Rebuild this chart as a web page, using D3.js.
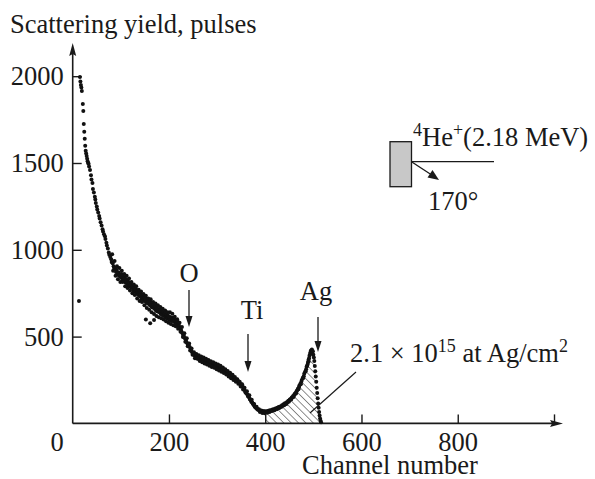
<!DOCTYPE html>
<html><head><meta charset="utf-8">
<script src="https://cdn.jsdelivr.net/npm/d3@7"></script>
<style>body{margin:0;background:#fff}svg{display:block}text{font-family:"Liberation Serif","Times New Roman",serif;fill:#1a1a1a}</style>
</head><body><svg id="c" width="595" height="479"></svg>
<script>
const xTicks = [200, 400, 600, 800, 1000];
const xTickLabels = ["200", "400", "600", "800", ""];
const yTicks = [500, 1000, 1500, 2000];
const spectrum = [[15,1995],[16,1970],[17,1950],[18,1935],[19,1915],[21,1840],[22,1800],[23,1725],[24,1680],[25,1640],[26,1600],[27,1570],[28,1555],[29,1540],[30,1525],[31,1510],[32,1500],[33,1495],[34,1480],[36,1460],[38,1430],[39,1405],[41,1385],[42,1350],[44,1330],[46,1305],[47,1290],[48,1270],[50,1250],[51,1232],[53,1215],[55,1195],[56,1180],[58,1158],[60,1140],[62,1118],[63,1105],[65,1090],[67,1078],[68,1062],[70,1040],[71,1025],[73,1008],[75,985],[76,972],[78,958],[80,945],[81,930],[83,922],[85,905],[86,895],[88,890],[90,872],[91,885],[93,862],[95,870],[96,850],[98,858],[100,842],[101,860],[103,828],[105,845],[106,822],[108,838],[110,812],[111,830],[113,805],[115,818],[116,795],[118,810],[120,785],[121,800],[123,780],[125,790],[126,765],[128,782],[130,760],[131,772],[133,748],[135,765],[136,740],[138,755],[140,732],[141,745],[143,720],[145,738],[146,712],[148,730],[150,705],[151,722],[153,698],[155,712],[156,690],[158,705],[160,682],[161,700],[163,675],[165,690],[166,668],[168,682],[170,660],[171,675],[173,650],[175,668],[176,645],[178,658],[180,640],[181,655],[183,630],[185,648],[186,625],[188,640],[190,618],[191,632],[193,612],[195,625],[196,605],[198,620],[200,600],[201,615],[203,595],[205,610],[206,590],[208,605],[210,588],[211,600],[213,580],[215,592],[216,575],[218,585],[220,568],[221,560],[223,550],[225,540],[226,530],[228,520],[230,508],[231,500],[233,490],[235,482],[236,470],[238,462],[240,455],[241,448],[243,440],[245,430],[246,422],[248,410],[250,405],[251,398],[253,392],[255,385],[256,392],[258,378],[260,385],[261,372],[263,380],[265,368],[266,376],[268,362],[270,372],[271,360],[273,368],[275,355],[276,364],[278,350],[280,360],[281,348],[283,356],[285,342],[286,352],[288,340],[290,348],[291,336],[293,344],[295,332],[296,340],[298,328],[300,336],[301,324],[303,332],[305,318],[306,326],[308,312],[310,320],[311,306],[313,312],[315,300],[316,305],[318,295],[320,298],[321,288],[323,292],[325,282],[326,285],[328,276],[330,280],[331,268],[333,272],[335,262],[336,262],[338,252],[340,255],[341,244],[343,246],[345,236],[346,236],[348,226],[350,225],[351,214],[353,212],[355,200],[356,198],[358,186],[360,182],[361,172],[363,166],[365,156],[366,150],[368,140],[370,134],[371,125],[373,120],[375,112],[376,106],[378,98],[380,94],[381,88],[383,84],[385,80],[386,78],[388,74],[390,72],[391,70],[393,68],[395,70],[396,66],[398,68],[400,65],[401,70],[403,66],[405,72],[406,68],[408,74],[410,70],[411,76],[413,74],[415,80],[416,76],[418,82],[420,80],[421,86],[423,84],[425,90],[426,88],[428,94],[430,92],[431,98],[433,98],[435,104],[436,102],[438,110],[440,108],[441,116],[443,114],[445,122],[446,122],[448,130],[450,130],[451,138],[453,140],[455,148],[456,150],[458,158],[460,162],[461,170],[463,175],[465,184],[466,190],[468,200],[470,208],[471,218],[473,228],[475,240],[476,250],[478,262],[480,272],[481,286],[483,298],[485,312],[486,326],[488,340],[489,352],[490,366],[491,376],[492,390],[493,398],[494,410],[495,420],[496,412],[497,425],[498,405],[499,415],[500,395],[501,380],[502,360],[503,330],[504,300],[505,270],[506,240],[507,205],[508,175],[509,145],[510,115],[511,90],[512,65],[513,45],[514,28],[515,15],[516,6]];
const spectrumScatter = [[82,975],[84,880],[87,935],[89,850],[92,905],[94,830],[97,895],[99,815],[102,880],[104,815],[107,860],[109,790],[112,850],[114,780],[117,835],[119,765],[122,815],[124,750],[127,800],[129,740],[132,790],[134,720],[137,770],[139,705],[142,760],[144,700],[147,745],[149,680],[152,735],[154,665],[157,720],[159,655],[162,715],[164,640],[167,700],[169,630],[172,690],[174,618],[177,680],[179,612],[182,670],[184,605],[187,660],[189,598],[192,650],[194,588],[197,640],[199,580],[202,640],[204,572],[207,632],[209,565],[212,615],[214,560],[217,600],[219,545],[222,580],[224,528],[227,555],[229,498],[232,520],[234,470],[237,490],[239,445],[242,460],[244,420],[247,432],[249,395],[252,410],[254,375],[257,400],[259,372],[262,392],[264,360],[267,385],[269,352],[272,380],[274,345],[277,372],[279,340],[282,365],[284,332],[287,358],[289,325],[292,352],[294,320],[297,345],[299,312],[302,340],[304,305],[307,332],[309,298],[312,322],[314,290],[317,312],[319,282],[322,302],[324,270],[327,292],[329,260],[332,280],[334,250],[337,268],[339,240],[342,255],[344,228],[347,240],[349,212],[352,225],[354,195],[357,205],[359,178],[362,185],[364,158],[367,162],[369,138],[372,136],[374,115],[377,112],[379,95],[382,96],[384,80],[387,82],[389,66],[392,74],[394,60],[397,70],[399,58],[404,62],[409,66],[414,72],[419,76],[424,82],[429,88],[434,96],[439,104],[444,112],[449,124],[454,138],[459,152],[464,172],[469,196],[474,226],[479,262],[484,300],[487,330],[490,356]];
const outliers = [[13,705],[161,577],[169,596],[152,598]];
const hatchStart = 400;
const peakLabels = ["O", "Ti", "Ag"];

const svg = d3.select("#c");
const x = d3.scaleLinear().domain([0, 1000]).range([72.7, 554]);
const y = d3.scaleLinear().domain([0, 2000]).range([423.4, 76.2]);
const FS = 26.5;
const SUP = 18;

const defs = svg.append("defs");
const pat = defs.append("pattern").attr("id","hatch").attr("patternUnits","userSpaceOnUse")
  .attr("width",5.2).attr("height",5.2).attr("patternTransform","rotate(-45)");
pat.append("line").attr("x1",0).attr("y1",0).attr("x2",0).attr("y2",5.2).attr("stroke","#333").attr("stroke-width",1.1);

// hatched area
const hatchData = spectrum.filter(d => d[0] >= hatchStart);
svg.append("path").datum(hatchData)
  .attr("d", d3.area().x(d => x(d[0])).y0(y(0)).y1(d => y(d[1]) + 1))
  .attr("fill","url(#hatch)");

// axes
const xAxis = d3.axisBottom(x).tickValues(xTicks).tickFormat((d,i)=>xTickLabels[i]).tickSizeInner(-9).tickSizeOuter(0).tickPadding(9);
const gx = svg.append("g").attr("transform",`translate(0,${y(0)})`).call(xAxis);
const yAxis = d3.axisLeft(y).tickValues(yTicks).tickFormat(d3.format("d")).tickSizeInner(-9).tickSizeOuter(0).tickPadding(9);
const gy = svg.append("g").attr("transform",`translate(${x(0)},0)`).call(yAxis);
[gx, gy].forEach(g => {
  g.select(".domain").remove();
  g.selectAll(".tick line").attr("stroke","#1a1a1a").attr("stroke-width",1.4);
  g.selectAll(".tick text").attr("font-size",FS).attr("font-family","Liberation Serif").attr("fill","#1a1a1a");
});
// axis lines with arrows
svg.append("line").attr("x1",x(0)).attr("x2",553).attr("y1",y(0)).attr("y2",y(0)).attr("stroke","#1a1a1a").attr("stroke-width",1.6);
svg.append("path").attr("d",`M563,${y(0)} L550,${y(0)-3.5} L552,${y(0)} L550,${y(0)+3.5}Z`).attr("fill","#1a1a1a");
svg.append("line").attr("x1",x(0)).attr("x2",x(0)).attr("y1",y(0)).attr("y2",53).attr("stroke","#1a1a1a").attr("stroke-width",1.6);
svg.append("path").attr("d",`M${x(0)},43 L${x(0)-3.5},56 L${x(0)},54 L${x(0)+3.5},56Z`).attr("fill","#1a1a1a");
svg.append("text").attr("x",57).attr("y",451).attr("text-anchor","middle").attr("font-size",FS).text("0");

// titles
svg.append("text").attr("x",10).attr("y",33).attr("font-size",FS).text("Scattering yield, pulses");
svg.append("text").attr("x",390).attr("y",474).attr("text-anchor","middle").attr("font-size",FS).text("Channel number");

// data points
svg.append("g").selectAll("circle").data(spectrum.concat(spectrumScatter, outliers)).join("circle")
  .attr("cx", d => x(d[0])).attr("cy", d => y(d[1])).attr("r",2).attr("fill","#111");

// peak arrows
function arrowDown(px, y1, y2) {
  svg.append("line").attr("x1",px).attr("x2",px).attr("y1",y1).attr("y2",y2-9).attr("stroke","#1a1a1a").attr("stroke-width",1.3);
  svg.append("path").attr("d",`M${px},${y2} L${px-3.5},${y2-11} L${px+3.5},${y2-11}Z`).attr("fill","#1a1a1a");
}
const labelPos = [{lx:189, ly:282, ax:189, a1:290, a2:327},{lx:252, ly:319, ax:248, a1:334, a2:372},{lx:316, ly:300, ax:318, a1:317, a2:352}];
peakLabels.forEach((p,i) => {
  const L = labelPos[i];
  svg.append("text").attr("x",L.lx).attr("y",L.ly).attr("text-anchor","middle").attr("font-size",FS).text(p);
  arrowDown(L.ax, L.a1, L.a2);
});

// annotation
const ann = svg.append("text").attr("x",350).attr("y",362).attr("font-size",FS);
ann.append("tspan").text("2.1 \u00d7 10");
ann.append("tspan").attr("font-size",SUP).attr("dy",-10).text("15");
ann.append("tspan").attr("dy",10).text(" at Ag/cm");
ann.append("tspan").attr("font-size",SUP).attr("dy",-10).text("2");
svg.append("line").attr("x1",356).attr("y1",372).attr("x2",310).attr("y2",413).attr("stroke","#1a1a1a").attr("stroke-width",1.2);

// inset
svg.append("rect").attr("x",390).attr("y",141.7).attr("width",21.5).attr("height",45).attr("fill","#c8c8c8").attr("stroke","#1a1a1a").attr("stroke-width",1.3);
svg.append("line").attr("x1",411.5).attr("x2",494).attr("y1",161.7).attr("y2",161.7).attr("stroke","#1a1a1a").attr("stroke-width",1.2);
svg.append("line").attr("x1",411.5).attr("y1",161.7).attr("x2",431).attr("y2",174.5).attr("stroke","#1a1a1a").attr("stroke-width",1.3);
svg.append("path").attr("d","M439,180 L427.5,177.5 L432.5,170Z").attr("fill","#1a1a1a");
const he = svg.append("text").attr("x",413).attr("y",146).attr("font-size",FS);
he.append("tspan").attr("font-size",SUP).attr("dy",-10).text("4");
he.append("tspan").attr("dy",10).text("He");
he.append("tspan").attr("font-size",SUP).attr("dy",-10).text("+");
he.append("tspan").attr("dy",10).text("(2.18 MeV)");
svg.append("text").attr("x",428).attr("y",210).attr("font-size",FS).text("170\u00b0");
</script></body></html>
